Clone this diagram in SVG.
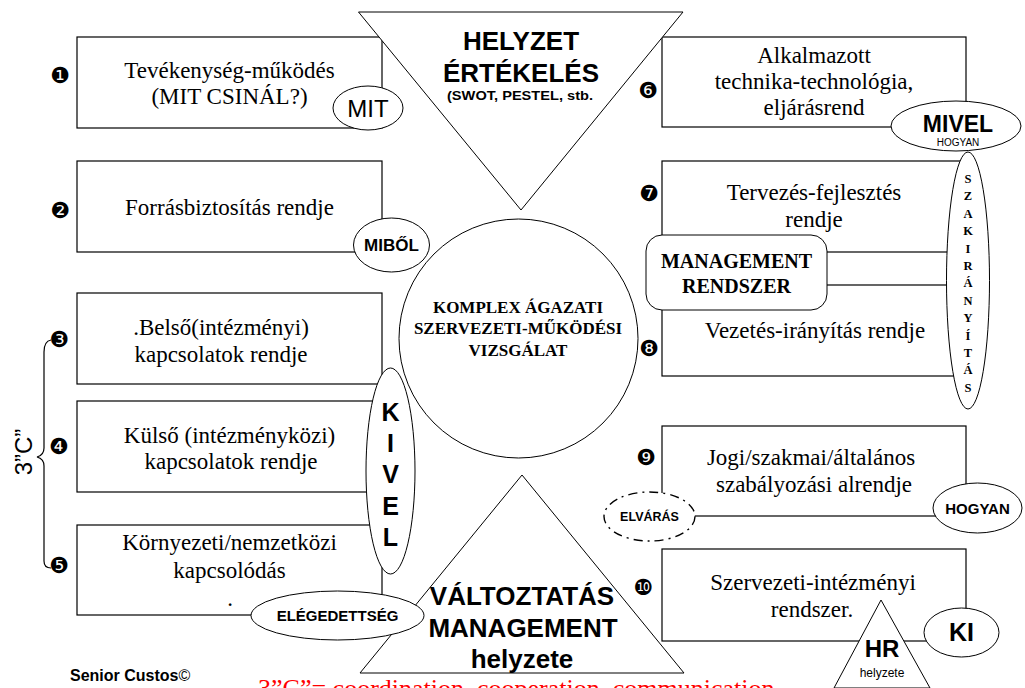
<svg xmlns="http://www.w3.org/2000/svg" width="1025" height="688" viewBox="0 0 1025 688">
<style>
.box{fill:#fff;stroke:#000;stroke-width:1.2}
.sh{fill:#fff;stroke:#000;stroke-width:1}
.t{font-family:'Liberation Serif','Times New Roman',serif;font-size:23px;text-anchor:middle;fill:#000}
.tb{font-family:'Liberation Serif','Times New Roman',serif;font-weight:bold;text-anchor:middle;fill:#000}
.a{font-family:'Liberation Sans',Arial,sans-serif;text-anchor:middle;fill:#000}
.ab{font-family:'Liberation Sans',Arial,sans-serif;font-weight:bold;text-anchor:middle;fill:#000}
.n{font-family:'DejaVu Sans',sans-serif;font-size:22px;text-anchor:middle;fill:#000}
</style>
<rect width="1025" height="688" fill="#fff"/>

<g id="box1"><rect class="box" x="77" y="37" width="305" height="91"/>
<text class="t" x="229.5" y="78">Tevékenység-működés</text><text class="t" x="229.5" y="104">(MIT CSINÁL?)</text>
<text class="n" x="60" y="83">❶</text></g>
<g id="box2"><rect class="box" x="77" y="161" width="305" height="91"/>
<text class="t" x="229.5" y="215">Forrásbiztosítás rendje</text>
<text class="n" x="60" y="218">❷</text></g>
<g id="box3"><rect class="box" x="77" y="293" width="305" height="91"/>
<text class="t" x="221" y="335">.Belső(intézményi)</text><text class="t" x="221" y="362">kapcsolatok rendje</text>
<text class="n" x="59" y="347">❸</text></g>
<g id="box4"><rect class="box" x="77" y="401" width="305" height="91"/>
<text class="t" x="229.5" y="443">Külső (intézményközi)</text><text class="t" x="231" y="469">kapcsolatok rendje</text>
<text class="n" x="59" y="454">❹</text></g>
<g id="box5"><rect class="box" x="77" y="525" width="305" height="90"/>
<text class="t" x="229.5" y="550">Környezeti/nemzetközi</text><text class="t" x="229.5" y="578">kapcsolódás</text><text class="t" x="230" y="606">.</text>
<text class="n" x="59" y="573">❺</text></g>

<g id="box6"><rect class="box" x="662" y="37" width="304" height="90"/>
<text class="t" x="814" y="63">Alkalmazott</text><text class="t" x="814" y="89">technika-technológia,</text><text class="t" x="814" y="115">eljárásrend</text>
<text class="n" x="648" y="98">❻</text></g>
<g id="box7"><rect class="box" x="662" y="161" width="304" height="91"/>
<text class="t" x="814" y="200">Tervezés-fejlesztés</text><text class="t" x="814" y="227">rendje</text>
<text class="n" x="649" y="201">❼</text></g>
<g id="box8"><rect class="box" x="662" y="285" width="304" height="91"/>
<text class="t" x="815" y="338">Vezetés-irányítás rendje</text>
<text class="n" x="649" y="356">❽</text></g>
<g id="box9"><rect class="box" x="662" y="426" width="304" height="90"/>
<text class="t" x="811" y="465">Jogi/szakmai/általános</text><text class="t" x="814" y="492">szabályozási alrendje</text>
<text class="n" x="646" y="465">❾</text></g>
<g id="box10"><rect class="box" x="662" y="549" width="304" height="92"/>
<text class="t" x="813" y="590">Szervezeti-intézményi</text><text class="t" x="812" y="617">rendszer.</text>
<text class="n" x="643" y="595">❿</text></g>

<g id="helyzet"><polygon class="sh" points="358.5,12 683,12 521,210"/>
<text class="ab" x="521" y="50" font-size="26">HELYZET</text>
<text class="ab" x="521" y="82" font-size="26">ÉRTÉKELÉS</text>
<text class="ab" x="520" y="100" font-size="13" textLength="146" lengthAdjust="spacingAndGlyphs">(SWOT, PESTEL, stb.</text></g>

<g id="valtoztatas"><polygon class="sh" points="522,475 684,673 360,673"/>
<text class="ab" x="522" y="605" font-size="26">VÁLTOZTATÁS</text>
<text class="ab" x="523" y="637" font-size="26">MANAGEMENT</text>
<text class="ab" x="522" y="668" font-size="26">helyzete</text></g>

<g id="komplex"><circle class="sh" cx="518.5" cy="338.5" r="119.5"/>
<text class="tb" x="518" y="313" font-size="17">KOMPLEX ÁGAZATI</text>
<text class="tb" x="518" y="334" font-size="17">SZERVEZETI-MŰKÖDÉSI</text>
<text class="tb" x="518" y="356" font-size="17">VIZSGÁLAT</text></g>

<g id="mit"><ellipse class="sh" cx="368" cy="108" rx="35" ry="22"/>
<text class="a" x="368" y="117" font-size="24">MIT</text></g>
<g id="mibol"><ellipse class="sh" cx="391.5" cy="245" rx="38" ry="27"/>
<text class="ab" x="391.5" y="251" font-size="17">MIBŐL</text></g>
<g id="kivel"><ellipse class="sh" cx="390.5" cy="471" rx="24.5" ry="103"/>
<text class="ab" font-size="25" x="390.5" y="421">K</text>
<text class="ab" font-size="25" x="390.5" y="452">I</text>
<text class="ab" font-size="25" x="390.5" y="483">V</text>
<text class="ab" font-size="25" x="390.5" y="515">E</text>
<text class="ab" font-size="25" x="390.5" y="546">L</text></g>
<g id="elegedettseg"><ellipse class="sh" cx="337.5" cy="615.5" rx="86.5" ry="24.5"/>
<text class="ab" x="337.5" y="621" font-size="15">ELÉGEDETTSÉG</text></g>

<g id="mivel"><ellipse class="sh" cx="956" cy="126" rx="65" ry="25"/>
<text class="ab" x="958" y="132" font-size="23">MIVEL</text>
<text class="a" x="958" y="146" font-size="10">HOGYAN</text></g>
<g id="szakiranyitas"><ellipse class="sh" cx="968" cy="280.5" rx="21.5" ry="128.5"/>
<g class="tb" font-size="12.5">
<text x="968" y="183">S</text><text x="968" y="200">Z</text><text x="968" y="218">A</text><text x="968" y="235">K</text><text x="968" y="253">I</text><text x="968" y="270">R</text><text x="968" y="287">Á</text><text x="968" y="305">N</text><text x="968" y="322">Y</text><text x="968" y="340">Í</text><text x="968" y="357">T</text><text x="968" y="374">Á</text><text x="968" y="392">S</text></g></g>
<g id="management"><rect class="sh" x="646" y="235" width="181" height="75" rx="16"/>
<text class="tb" x="736.5" y="268" font-size="20">MANAGEMENT</text>
<text class="tb" x="736.5" y="293" font-size="20">RENDSZER</text></g>
<g id="elvaras"><ellipse cx="649.5" cy="516.5" rx="45.5" ry="24.5" fill="#fff" stroke="#000" stroke-width="1.4" stroke-dasharray="9,5,2,5"/>
<text class="ab" x="649.5" y="521" font-size="12.5">ELVÁRÁS</text></g>
<g id="hogyan"><ellipse class="sh" cx="977.5" cy="508" rx="44.5" ry="25"/>
<text class="ab" x="977.5" y="514" font-size="15">HOGYAN</text></g>
<g id="ki"><ellipse class="sh" cx="961.5" cy="632.5" rx="37.5" ry="24.5"/>
<text class="ab" x="961.5" y="641" font-size="25">KI</text></g>
<g id="hr"><polygon class="sh" points="881,600 930,688 834,688"/>
<text class="ab" x="882" y="657" font-size="24">HR</text>
<text class="a" x="882" y="677" font-size="12">helyzete</text></g>

<g id="connectors">
<path d="M51,340 C45,341 44,346 44,352 L44,448 C44,453 41,456 37,457 C41,458 44,461 44,466 L44,561 C44,566 46,568 51,568" fill="none" stroke="#000" stroke-width="1.2"/>
</g>

<text class="a" font-size="24" transform="translate(32,452) rotate(-90)">3”C”</text>
<text class="ab" x="70" y="681" font-size="16" style="text-anchor:start">Senior Custos<tspan font-weight="normal">©</tspan></text>
<text x="258" y="697" font-family="'Liberation Serif','Times New Roman',serif" font-size="26" fill="#ff0000">3”C”= coordination, cooperation, communication</text>
</svg>
